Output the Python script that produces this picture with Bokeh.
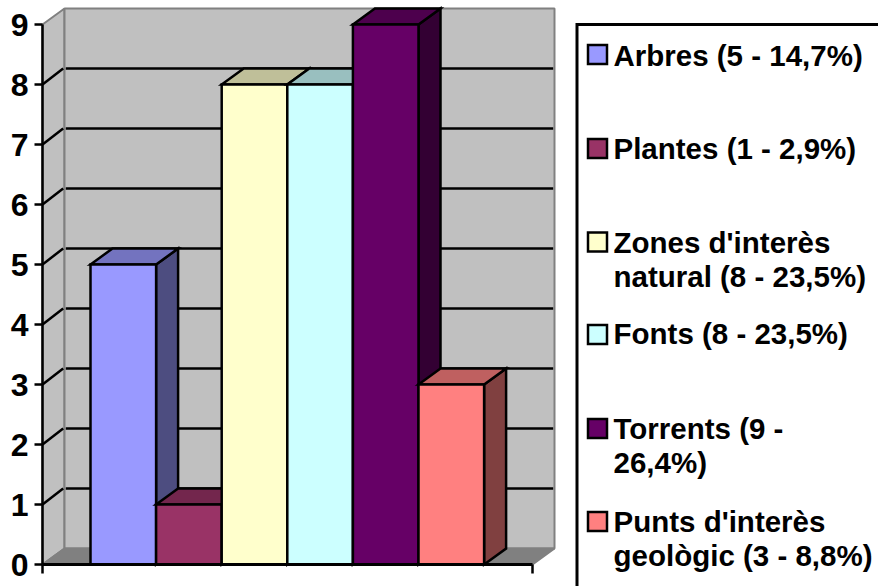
from bokeh.plotting import figure
from bokeh.models import LinearAxis, FixedTicker, Range1d
from bokeh.core.properties import value
from bokeh.embed import file_html
from bokeh.resources import INLINE

# ---- data ----
categories = ["Arbres", "Plantes", "Zones d'interès natural", "Fonts", "Torrents", "Punts d'interès geològic"]
values = [5, 1, 8, 8, 9, 3]
legend_lines = [
    ["Arbres (5 - 14,7%)"],
    ["Plantes (1 - 2,9%)"],
    ["Zones d'interès", "natural (8 - 23,5%)"],
    ["Fonts (8 - 23,5%)"],
    ["Torrents (9 -", "26,4%)"],
    ["Punts d'interès", "geològic (3 - 8,8%)"],
]
front_colors = ["#9999FF", "#993366", "#FFFFCC", "#CCFFFF", "#660066", "#FF8080"]
top_colors = ["#7373BF", "#73264D", "#BFBF99", "#99BFBF", "#4D004D", "#BF6060"]
side_colors = ["#4D4D80", "#4D1A33", "#808066", "#668080", "#330033", "#804040"]
y_ticks = [0, 1, 2, 3, 4, 5, 6, 7, 8, 9]

# ---- layout (pixels in the window) ----
W, H = 878, 586
X0, BAR_W = 90.0, 65.6       # first bar's left edge, bar width
Y0, UNIT = 564.0, 60.0       # value 0, pixels per unit
DX, DY = 22 / BAR_W, 16 / UNIT   # depth in data units
AX_L = (42 - X0) / BAR_W
AX_R = (532 - X0) / BAR_W
TOP = max(y_ticks)
FONT = value("Liberation Sans")
LW = 2.5


def px(x):
    return (x - X0) / BAR_W


def py(y):
    return (Y0 - y) / UNIT


p = figure(width=W, height=H, output_backend="svg", toolbar_location=None,
           x_range=Range1d(px(0), px(W)), y_range=Range1d(py(H), py(0)),
           min_border=0, x_axis_type=None, y_axis_type=None,
           outline_line_color=None, background_fill_color="white",
           border_fill_color="white")
p.grid.visible = False

# walls and floor
p.patches([[AX_L, AX_L + DX, AX_L + DX, AX_L]], [[0, DY, TOP + DY, TOP]],
          fill_color="#C0C0C0", line_color="#808080", line_width=2)
p.patches([[AX_L + DX, AX_R + DX, AX_R + DX, AX_L + DX]], [[DY, DY, TOP + DY, TOP + DY]],
          fill_color="#C0C0C0", line_color="#808080", line_width=2)
p.patches([[AX_L, AX_L + DX, AX_R + DX, AX_R]], [[0, DY, DY, 0]],
          fill_color="#808080", line_color="#808080", line_width=2)

# gridlines, wrapping from the side wall on to the back wall
gx = [[AX_L, AX_L + DX - 0.02] for t in y_ticks[1:-1]] + [[AX_L + DX + 0.02, AX_R + DX - 0.02] for t in y_ticks[1:-1]]
gy = [[t, t + DY] for t in y_ticks[1:-1]] + [[t + DY, t + DY] for t in y_ticks[1:-1]]
p.multi_line(gx, gy, line_color="black", line_width=LW)

# 3D bars
for i, v in enumerate(values):
    l, r = float(i), float(i + 1)
    p.patches([[r, r + DX, r + DX, r]], [[0, DY, v + DY, v]],
              fill_color=side_colors[i], line_color="black", line_width=LW, line_join="miter")
    p.patches([[l, l + DX, r + DX, r]], [[v, v + DY, v + DY, v]],
              fill_color=top_colors[i], line_color="black", line_width=LW, line_join="miter")
    p.patches([[l, r, r, l]], [[0, 0, v, v]],
              fill_color=front_colors[i], line_color="black", line_width=LW, line_join="miter")

# axes
yax = LinearAxis(fixed_location=AX_L, ticker=FixedTicker(ticks=y_ticks), bounds=(0, TOP),
                 axis_line_color="black", axis_line_width=LW,
                 major_tick_line_color="black", major_tick_line_width=LW,
                 major_tick_in=0, major_tick_out=8, minor_tick_line_color=None,
                 major_label_standoff=6, major_label_text_color="black",
                 major_label_text_font="Liberation Sans", major_label_text_font_style="bold",
                 major_label_text_font_size="32px")
p.add_layout(yax, "left")
xax = LinearAxis(fixed_location=0, ticker=FixedTicker(ticks=[AX_L, AX_R]), bounds=(AX_L, AX_R),
                 axis_line_color="black", axis_line_width=3,
                 major_tick_line_color="black", major_tick_line_width=LW,
                 major_tick_in=0, major_tick_out=9, minor_tick_line_color=None,
                 major_label_overrides={AX_L: "", AX_R: ""})
p.add_layout(xax, "below")

# legend box
p.patches([[px(576.5), px(W + 20), px(W + 20), px(576.5)]], [[py(24), py(24), py(H + 20), py(H + 20)]],
          fill_color="white", line_color="black", line_width=3, line_join="miter")

# legend entries
swatch_y = [54, 148, 241.5, 334, 428, 521]
baseline_y = [54.5, 147.5, 241.5, 332.5, 427.5, 520.5]
LINE_H = 34.5
for i, lines in enumerate(legend_lines):
    sy = swatch_y[i]
    p.patches([[px(587.5), px(606.5), px(606.5), px(587.5)]], [[py(sy - 9.5), py(sy - 9.5), py(sy + 9.5), py(sy + 9.5)]],
              fill_color=front_colors[i], line_color="black", line_width=LW, line_join="miter")
    xs = [px(613)] * len(lines)
    ys = [py(baseline_y[i] + k * LINE_H) for k in range(len(lines))]
    p.text(xs, ys, text=lines, text_font=FONT, text_font_style="bold",
           text_font_size=value("29.5px"), text_color="black",
           text_align="left", text_baseline="alphabetic")

open("out.html", "w").write(file_html(p, INLINE))
